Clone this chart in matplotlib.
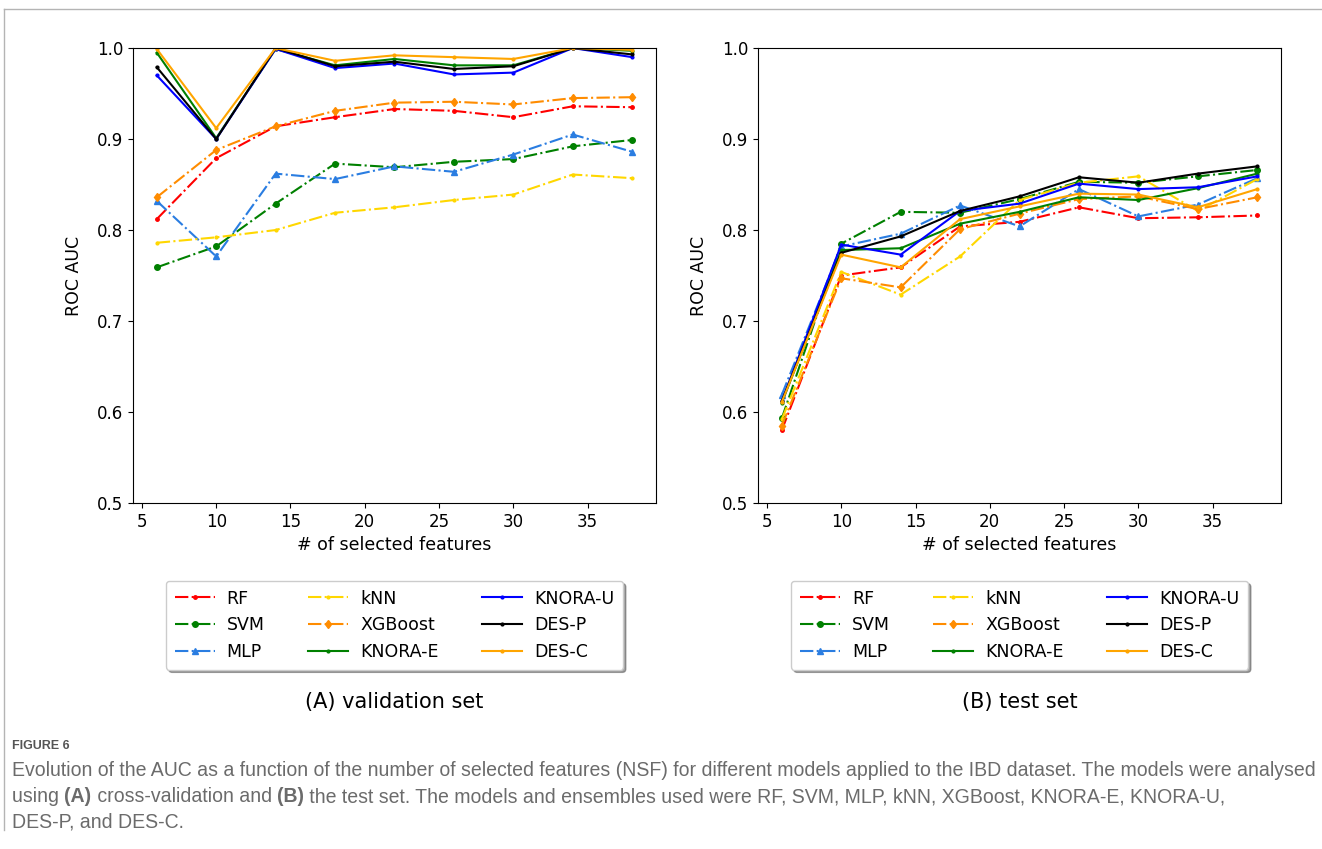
import matplotlib
matplotlib.use('Agg')
import matplotlib.pyplot as plt
from matplotlib.lines import Line2D

# numero di feature selezionate
nsf = [6, 10, 14, 18, 22, 26, 30, 34, 38]

# (A) validation set
val_rf = [0.812, 0.879, 0.914, 0.924, 0.933, 0.931, 0.924, 0.936, 0.935]
val_svm = [0.759, 0.782, 0.829, 0.873, 0.869, 0.875, 0.878, 0.892, 0.899]
val_mlp = [0.832, 0.771, 0.862, 0.856, 0.870, 0.864, 0.883, 0.905, 0.886]
val_knn = [0.786, 0.792, 0.800, 0.819, 0.825, 0.833, 0.839, 0.861, 0.857]
val_xgb = [0.836, 0.888, 0.914, 0.931, 0.940, 0.941, 0.938, 0.945, 0.946]
val_knora_e = [0.995, 0.901, 0.999, 0.981, 0.988, 0.981, 0.981, 1.000, 0.997]
val_knora_u = [0.970, 0.900, 0.999, 0.978, 0.983, 0.971, 0.973, 1.000, 0.990]
val_des_p = [0.979, 0.900, 1.000, 0.980, 0.985, 0.977, 0.980, 1.000, 0.993]
val_des_c = [0.999, 0.912, 1.000, 0.986, 0.992, 0.990, 0.988, 1.000, 0.998]

# (B) test set
test_rf = [0.580, 0.750, 0.759, 0.804, 0.809, 0.825, 0.813, 0.814, 0.816]
test_svm = [0.593, 0.785, 0.820, 0.819, 0.834, 0.853, 0.852, 0.859, 0.866]
test_mlp = [0.619, 0.782, 0.796, 0.827, 0.804, 0.845, 0.815, 0.828, 0.857]
test_knn = [0.592, 0.754, 0.729, 0.771, 0.833, 0.852, 0.859, 0.821, 0.856]
test_xgb = [0.585, 0.747, 0.737, 0.801, 0.818, 0.834, 0.837, 0.823, 0.836]
test_knora_e = [0.610, 0.778, 0.780, 0.807, 0.820, 0.836, 0.833, 0.846, 0.862]
test_knora_u = [0.612, 0.784, 0.773, 0.821, 0.829, 0.851, 0.845, 0.847, 0.859]
test_des_p = [0.612, 0.775, 0.793, 0.821, 0.837, 0.858, 0.852, 0.862, 0.870]
test_des_c = [0.611, 0.773, 0.759, 0.812, 0.826, 0.840, 0.839, 0.825, 0.845]

labels = ['RF', 'SVM', 'MLP', 'kNN', 'XGBoost', 'KNORA-E', 'KNORA-U', 'DES-P', 'DES-C']
colors = ['red', 'green', '#2a7de1', 'gold', 'darkorange', 'green', 'blue', 'black', 'orange']
markers = ['.', 'o', '^', '.', 'd', '.', '.', '.', '.']
msizes = [5, 4, 5, 4, 4.5, 4, 4, 4, 4]
styles = ['-.', '-.', '-.', '-.', '-.', '-', '-', '-', '-']

val_all = [val_rf, val_svm, val_mlp, val_knn, val_xgb, val_knora_e, val_knora_u, val_des_p, val_des_c]
test_all = [test_rf, test_svm, test_mlp, test_knn, test_xgb, test_knora_e, test_knora_u, test_des_p, test_des_c]

fig = plt.figure(figsize=(13.22, 8.49), dpi=100)

ax1 = fig.add_axes([0.1006, 0.4075, 0.3956, 0.5359])
ax2 = fig.add_axes([0.5734, 0.4075, 0.3956, 0.5359])

#画两个子图
for ax, data, sub in [(ax1, val_all, '(A) validation set'), (ax2, test_all, '(B) test set')]:
    for i in range(len(labels)):
        ax.plot(nsf, data[i], linestyle=styles[i], color=colors[i], marker=markers[i],
                markersize=msizes[i], linewidth=1.5, label=labels[i])
    ax.set_ylim(0.5, 1.0)
    ax.set_xticks([5, 10, 15, 20, 25, 30, 35])
    ax.set_yticks([0.5, 0.6, 0.7, 0.8, 0.9, 1.0])
    ax.tick_params(labelsize=12)
    ax.set_xlabel('# of selected features', fontsize=12.5)
    ax.set_ylabel('ROC AUC', fontsize=12.5, labelpad=10)
    ax.legend(ncol=3, loc='upper center', bbox_to_anchor=(0.5, -0.152), fontsize=12.5,
              shadow=True, handlelength=2.3, handletextpad=0.7, columnspacing=2.5, borderpad=0.5)
    ax.text(0.5, -0.437, sub, transform=ax.transAxes, ha='center', va='center', fontsize=15)

# cornice della pagina
fig.add_artist(Line2D([0.003, 1.0], [0.9894, 0.9894], color='#b4b4b4', lw=1))
fig.add_artist(Line2D([0.003, 0.003], [0.9894, 0.022], color='#b4b4b4', lw=1))

cap_font = ['Liberation Sans', 'DejaVu Sans']
cap_col = '#6b6b6b'
fig.text(12 / 1322, 1 - 746 / 849, 'FIGURE 6', fontsize=9, fontweight='bold',
         color='#555555', family=cap_font, va='center')

cap_lines = [
    [('Evolution of the AUC as a function of the number of selected features (NSF) for different models applied to the IBD dataset. The models were analysed', 'normal')],
    [('using ', 'normal'), ('(A)', 'bold'), (' cross-validation and ', 'normal'), ('(B)', 'bold'),
     (' the test set. The models and ensembles used were RF, SVM, MLP, kNN, XGBoost, KNORA-E, KNORA-U,', 'normal')],
    [('DES-P, and DES-C.', 'normal')],
]
cap_y = [771, 797, 822]

renderer = fig.canvas.get_renderer()
for line, yy in zip(cap_lines, cap_y):
    x = 12
    for txt, w in line:
        t = fig.text(x / 1322, 1 - yy / 849, txt, fontsize=14.05, fontweight=w,
                     color=cap_col, family=cap_font, va='center')
        bb = t.get_window_extent(renderer)
        x += bb.width

fig.savefig('out.png', dpi=100)
